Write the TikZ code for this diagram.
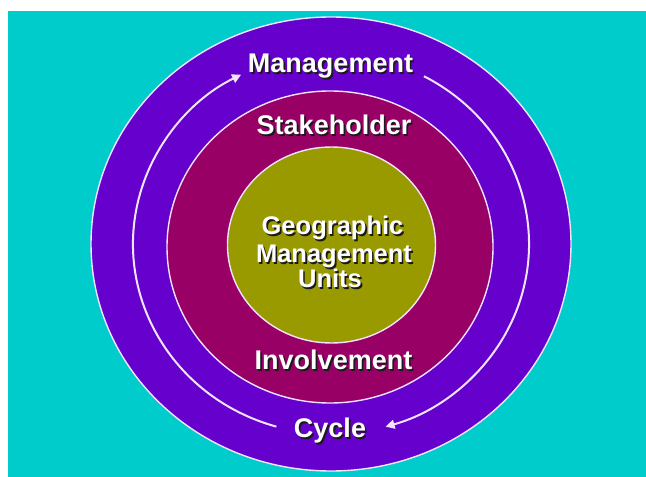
\documentclass[tikz,border=0pt]{standalone}
\usepackage{fontspec}
\setmainfont{Liberation Sans}
\usetikzlibrary{arrows.meta,calc}
\definecolor{bgcyan}{HTML}{00CCCC}
\definecolor{ringpurple}{HTML}{6600CC}
\definecolor{midmagenta}{HTML}{990066}
\definecolor{coreolive}{HTML}{999900}
\definecolor{edgelav}{HTML}{F2E4FF}
\definecolor{shadowc}{HTML}{1A1A1A}
\newcommand{\shtext}[1]{\rlap{\hspace{1.6pt}\raisebox{-1.6pt}{\textcolor{shadowc}{#1}}}#1}
\begin{document}
\begin{tikzpicture}[x=1pt,y=1pt,
  lbl/.style={font=\bfseries\fontsize{27}{26}\selectfont, text=white, anchor=base, inner sep=0pt},
  core/.style={lbl, font=\bfseries\fontsize{25.5}{25}\selectfont},
  rim/.style={draw=edgelav, line width=1.4pt},
  cyc/.style={draw=edgelav, line width=2pt, -{Triangle[length=9pt,width=9pt]}}]
\useasboundingbox (0,0) rectangle (646,477);
\fill[white] (0,0) rectangle (646,477);
\fill[bgcyan] (8,0) rectangle (646,466);
\coordinate (c) at (331,233);
\coordinate (cm) at (330,230);
\coordinate (co) at (331.5,232);
\path[rim, fill=ringpurple] (c) ellipse [x radius=240pt, y radius=227pt];
\path[rim, fill=midmagenta] (cm) ellipse [x radius=163pt, y radius=156pt];
\path[rim, fill=coreolive] (co) ellipse [x radius=104pt, y radius=98pt];
% cycle arrows
\coordinate (la) at ($(c)+(254:198pt and 190pt)$);
\coordinate (ra) at ($(c)+(62:198pt and 190pt)$);
\draw[cyc] (la) arc[start angle=254, end angle=117, x radius=198pt, y radius=190pt];
\draw[cyc] (ra) arc[start angle=62, end angle=-74, x radius=198pt, y radius=190pt];
% labels
\node[lbl] (mgmt) at (330.5,404) {\shtext{Management}};
\node[lbl] (stake) at (334,342) {\shtext{Stakeholder}};
\node[lbl] (invol) at (333.5,107) {\shtext{Involvement}};
\node[lbl] (cycle) at (330,39) {\shtext{Cycle}};
\node[core] (geo) at (332.5,242.5) {\shtext{Geographic}};
\node[core] (mgu) at (334,214.5) {\shtext{Management}};
\node[core] (units) at (330,189) {\shtext{Units}};
\end{tikzpicture}
\end{document}
